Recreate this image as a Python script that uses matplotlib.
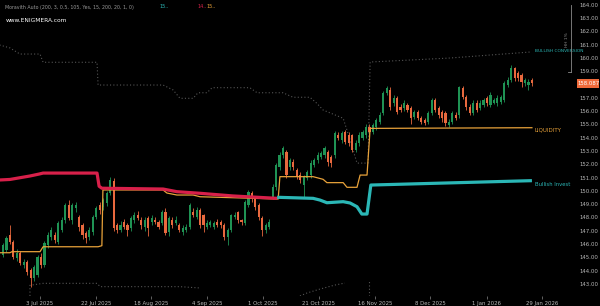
import matplotlib
matplotlib.use("Agg")
import matplotlib.pyplot as plt
from matplotlib.lines import Line2D
from matplotlib.patches import Rectangle
import numpy as np

# ---------------- data ----------------
opens = [145.18,145.55,146.68,146.15,144.95,145.33,144.43,144.65,144.05,143.45,
         143.67,145.03,144.43,145.93,146.53,146.68,146.15,147.06,147.81,148.94,
         147.81,148.71,148.03,147.43,146.83,146.53,146.91,148.03,148.94,148.79,
         149.09,149.84,150.74,147.43,147.06,147.66,147.43,147.21,147.81,148.18,
         147.81,147.28,147.96,147.66,147.81,147.66,147.58,148.41,146.91,147.81,
         147.58,147.43,146.91,147.06,147.28,148.41,148.03,148.56,148.18,147.28,
         147.43,147.28,147.66,147.66,147.43,146.53,147.06,148.03,148.41,147.81,
         147.58,148.94,149.84,149.46,148.94,147.96,147.06,147.28,149.54,150.29,
         151.79,152.70,152.92,151.79,152.17,151.57,151.19,150.44,150.97,151.19,
         151.94,152.32,152.55,152.70,152.92,152.55,152.70,154.20,153.82,154.43,
         154.20,154.20,153.07,153.60,153.97,154.20,154.80,154.43,154.80,155.18,
         155.85,157.36,157.58,156.61,156.98,156.30,156.23,156.46,156.23,155.55,
         155.93,155.48,155.33,155.18,155.85,156.83,156.23,155.93,155.85,154.95,
         155.18,155.70,155.70,157.73,157.06,156.30,155.85,156.61,156.23,156.46,
         156.98,156.46,156.61,156.61,156.68,156.83,157.96,158.33,159.24,158.86,
         158.71,158.11,157.96,158.33]
closes = [145.93,146.46,146.15,145.03,145.33,144.58,144.65,143.90,143.45,144.27,
          145.03,144.43,146.08,146.68,147.06,146.30,147.58,147.81,148.94,147.96,
          148.94,148.94,147.28,146.68,146.46,147.06,148.03,148.71,148.56,149.31,
          149.84,150.82,147.21,147.06,147.43,147.28,147.06,147.96,148.18,147.96,
          147.43,147.81,147.21,147.96,147.66,147.28,148.41,146.83,147.96,147.43,
          147.81,147.06,147.21,147.28,148.94,148.18,148.56,147.43,147.43,147.58,
          147.66,147.58,147.43,147.43,146.53,147.06,148.18,148.18,147.81,147.66,
          149.16,149.91,149.46,148.79,148.03,147.06,147.43,147.66,150.29,151.94,
          152.70,153.22,151.19,152.32,151.79,151.04,150.82,151.04,151.42,152.09,
          152.32,152.70,152.85,153.22,152.17,152.09,154.35,153.97,154.35,153.67,
          153.60,153.07,153.60,154.20,154.43,154.80,154.43,154.95,155.33,155.70,
          157.36,157.73,156.30,156.98,155.93,156.08,156.61,156.08,155.48,155.93,
          155.48,155.18,155.10,155.85,156.83,156.08,155.70,155.48,155.10,155.18,
          155.85,155.48,157.81,157.06,156.30,155.85,156.61,156.08,156.61,156.83,
          156.61,157.21,156.83,156.98,157.06,158.11,158.33,159.24,158.49,158.49,
          158.18,158.33,158.18,158.09]
highs = [146.10,146.60,147.43,146.30,145.60,145.50,144.90,144.80,144.20,144.40,
         145.20,145.30,146.20,146.90,147.30,146.90,147.70,148.00,149.10,149.30,
         149.10,149.20,148.20,147.60,147.00,147.30,148.20,148.90,149.20,149.50,
         150.00,151.05,150.97,147.60,147.70,147.90,147.60,148.10,148.40,148.50,
         148.00,148.00,148.10,148.20,148.00,147.80,148.60,148.70,148.10,148.00,
         148.10,147.60,147.40,147.50,149.10,148.70,148.80,148.70,148.30,147.80,
         147.80,147.75,147.90,147.80,147.60,147.20,148.30,148.40,148.50,147.90,
         149.30,150.10,150.00,149.60,149.10,148.10,147.60,147.90,150.50,152.10,
         152.90,153.40,153.05,152.50,152.40,151.70,151.40,151.20,151.60,152.30,
         152.50,152.90,153.00,153.40,153.10,152.70,154.50,154.40,154.50,154.60,
         154.40,154.30,153.80,154.40,154.60,155.00,155.00,155.10,155.50,155.90,
         157.50,157.90,157.80,157.20,157.10,156.50,156.80,156.60,156.40,156.10,
         156.10,155.60,155.50,156.00,157.00,157.00,156.40,156.10,156.00,155.40,
         156.00,155.90,157.90,157.90,157.20,156.50,156.80,156.80,156.80,157.00,
         157.10,157.40,157.00,157.20,157.20,158.30,158.60,159.45,159.35,159.00,
         158.90,158.50,158.40,158.50]
lows = [145.00,145.40,146.00,144.90,144.70,144.40,144.20,143.70,142.80,143.20,
        143.50,144.20,144.30,145.70,146.30,146.10,146.00,146.90,147.60,147.80,
        147.50,148.40,147.00,146.40,146.10,146.30,146.70,147.90,148.30,148.60,
        148.90,149.70,147.00,146.80,146.90,147.10,146.60,147.00,147.60,147.80,
        147.10,147.00,146.60,147.40,147.50,147.10,147.40,146.70,146.60,147.20,
        147.40,146.90,146.70,146.90,147.10,148.00,147.90,147.20,146.90,147.10,
        147.30,147.10,147.30,147.20,146.30,145.90,146.90,147.90,147.60,147.40,
        147.40,148.80,149.20,148.60,147.80,146.60,146.80,147.10,149.40,150.10,
        151.60,152.50,151.00,151.60,151.60,150.90,150.60,149.54,150.80,151.00,
        151.80,152.10,152.40,152.50,151.90,151.80,152.50,153.80,153.60,153.50,
        153.40,152.90,152.90,153.40,153.80,154.00,154.20,154.30,154.60,155.00,
        155.70,157.20,156.10,156.40,155.80,155.90,156.00,155.90,155.00,155.40,
        155.30,155.00,154.95,155.00,155.70,155.90,155.50,155.20,154.90,154.80,
        155.00,155.30,155.50,156.90,156.10,155.70,155.70,155.90,156.10,156.30,
        156.40,156.30,156.50,156.40,156.50,156.70,157.80,158.20,158.30,158.30,
        157.80,157.90,157.60,157.90]

# indicator lines: (bar index, price) breakpoints
bear_x = [-1, 2.0, 7.8, 10.5, 11.6, 27.2, 27.8, 28.6, 46.3, 50.3, 57.0, 66.5, 79.3]
bear_y = [150.82, 150.86, 151.12, 151.27, 151.34, 151.34, 150.35, 150.20, 150.14, 149.94, 149.82, 149.62, 149.44]

bull_x = [79.3, 89.7, 91.7, 93.7, 98.4, 100.4, 102.4, 103.8, 105.3, 106.4, 153.0]
bull_y = [149.52, 149.44, 149.31, 149.11, 149.19, 149.09, 148.81, 148.26, 148.26, 150.44, 150.77]

liq_x = [-1, 2.0, 2.6, 10.7, 11.6, 27.5, 28.6, 28.9, 46.3, 47.4, 50.3, 55.0, 57.0, 79.3, 79.6, 80.1,
         89.7, 92.6, 93.7, 98.4, 99.5, 102.4, 103.3, 105.3, 106.2, 153.0]
liq_y = [145.35, 145.35, 145.43, 145.43, 145.80, 145.80, 145.88, 150.07, 150.07, 149.84, 149.69, 149.69,
         149.56, 149.39, 149.39, 151.07, 151.07, 150.87, 150.62, 150.62, 150.27, 150.27, 151.19, 151.19,
         154.70, 154.75]

upper_x = [-1, 2.0, 4.9, 10.7, 11.6, 27.2, 27.5, 46.3, 49.2, 51.2, 55.0, 56.4, 59.0, 60.5, 71.4, 73.5,
           81.0, 83.9, 88.8, 90.8, 92.6, 98.4, 100.4, 102.4, 105.6, 106.2, 129.3, 152.4]
upper_y = [160.97, 160.75, 160.29, 160.29, 159.67, 159.67, 157.96, 157.96, 157.59, 156.96, 156.96,
           157.38, 157.38, 157.76, 157.76, 157.38, 157.38, 157.04, 157.04, 156.58, 156.08, 155.46,
           153.83, 152.09, 152.09, 159.69, 159.99, 160.44]

lower_x = [7.8, 7.8, 11.6, 27.2, 28.1, 51.2, 57.0]
lower_y = [142.10, 142.90, 143.05, 143.05, 142.80, 142.80, 142.70]

lower2_x = [85.9, 87.9, 91.7, 96.0, 98.9]
lower2_y = [142.10, 142.32, 142.62, 142.92, 143.07]
lower3_x = [105.9, 105.9]
lower3_y = [142.10, 143.30]

last_price = 158.087
y_ticks = [143, 144, 145, 146, 147, 148, 149, 150, 151, 152, 153, 154, 155, 156, 157,
           159, 160, 161, 162, 163, 164]
x_tick_pos = [10.7, 26.9, 42.8, 59.0, 75.2, 91.4, 107.6, 123.5, 140.0, 155.9]
x_tick_labels = ["3 Jul 2025", "22 Jul 2025", "18 Aug 2025", "4 Sep 2025", "1 Oct 2025",
                 "21 Oct 2025", "16 Nov 2025", "8 Dec 2025", "1 Jan 2026", "29 Jan 2026"]

# ---------------- figure ----------------
W, H = 600, 306
fig = plt.figure(figsize=(W / 100, H / 100), dpi=100, facecolor="black")
ax_right, ax_bottom = 572, 296
ax = fig.add_axes([0, 1 - ax_bottom / H, ax_right / W, ax_bottom / H])
ax.set_facecolor("black")

px_per_bar = 3.457
x0 = 3.0
ax.set_xlim((0 - x0) / px_per_bar, (ax_right - x0) / px_per_bar)
top_price = 164.353
ppu = 13.3
ax.set_ylim(top_price - ax_bottom / ppu, top_price)

green = "#1f9354"
red = "#e8693e"
o = np.array(opens); c = np.array(closes); h = np.array(highs); l = np.array(lows)
idx = np.arange(len(o))
cols = [green if cc >= oo else red for oo, cc in zip(o, c)]
ax.vlines(idx, l, h, colors=cols, linewidth=0.6, zorder=3)
body_b = np.minimum(o, c)
body_h = np.maximum(np.abs(c - o), 0.05)
ax.bar(idx, body_h, bottom=body_b, width=0.62, color=cols, linewidth=0, zorder=4)

# indicator lines
dot = dict(color="#555555", lw=0.8, ls=(0, (1, 2)), zorder=2)
ax.plot(upper_x, upper_y, **dot)
ax.plot(lower_x, lower_y, **dot)
ax.plot(lower2_x, lower2_y, **dot)
ax.plot(lower3_x, lower3_y, **dot)
ax.plot(liq_x, liq_y, color="#e8a23a", lw=0.9, zorder=5)
ax.plot(bear_x, bear_y, color="#d8204a", lw=2.3, solid_capstyle="butt", zorder=6)
ax.plot(bull_x, bull_y, color="#2bb7b6", lw=2.3, solid_capstyle="butt", zorder=6)

# right-side labels
ax.text(153.8, 160.55, "BULLISH CONVERSION", color="#2bb7b6", fontsize=3.2, va="center", ha="left", zorder=7)
ax.text(153.8, 154.6, "LIQUIDITY", color="#e8a23a", fontsize=4.0, va="center", ha="left", zorder=7)
ax.text(153.8, 150.45, "Bullish Invest", color="#2bb7b6", fontsize=3.8, va="center", ha="left", zorder=7)

# axes styling
for s in ax.spines.values():
    s.set_visible(False)
ax.yaxis.tick_right()
ax.set_yticks(y_ticks)
ax.set_yticklabels([f"{v:.2f}" for v in y_ticks])
ax.tick_params(axis="y", length=0, pad=5.5, labelsize=3.9, labelcolor="#b8b8b8")
ax.set_xticks(x_tick_pos)
ax.set_xticklabels(x_tick_labels)
ax.tick_params(axis="x", length=2.0, width=0.5, color="#888888", pad=1.5, labelsize=3.9,
               labelcolor="#b8b8b8")

# last price box
yb = ax.transData.transform((0, last_price))[1]
fig.patches.append(Rectangle((577 / W, yb / H - 4.5 / H), 22 / W, 9 / H, transform=fig.transFigure,
                             facecolor="#f06a3a", edgecolor="none", zorder=10))
fig.text(588 / W, yb / H, f"{last_price:.3f}", color="white", fontsize=3.9, ha="center", va="center",
         zorder=11)

# top-right range marker
fig.add_artist(Line2D([571 / W, 571 / W], [1 - 5 / H, 1 - 72 / H], color="#8a8a8a", lw=0.6))
fig.add_artist(Line2D([568 / W, 571 / W], [1 - 72 / H, 1 - 72 / H], color="#8a8a8a", lw=0.6))
fig.text(567.0 / W, 1 - 40 / H, "HH 1%", color="#8a8a8a", fontsize=3.2, rotation=90, ha="center",
         va="center")

# header
fig.text(5 / W, 1 - 7 / H, "Moravith Auto (200, 3, 0.5, 105, Yes, 15, 200, 20, 1, 0)", color="#9a9a9a",
         fontsize=3.4, ha="left", va="center")
fig.text(160 / W, 1 - 7 / H, "15..", color="#2bb7b6", fontsize=3.6, ha="left", va="center")
fig.text(197 / W, 1 - 7 / H, "14..", color="#d8204a", fontsize=3.6, ha="left", va="center")
fig.text(207 / W, 1 - 7 / H, "15..", color="#e8a23a", fontsize=3.6, ha="left", va="center")
fig.text(6 / W, 1 - 21 / H, "www.ENIGMERA.com", color="white", fontsize=4.2, ha="left", va="center")

fig.savefig("out.png", dpi=100, facecolor="black")
